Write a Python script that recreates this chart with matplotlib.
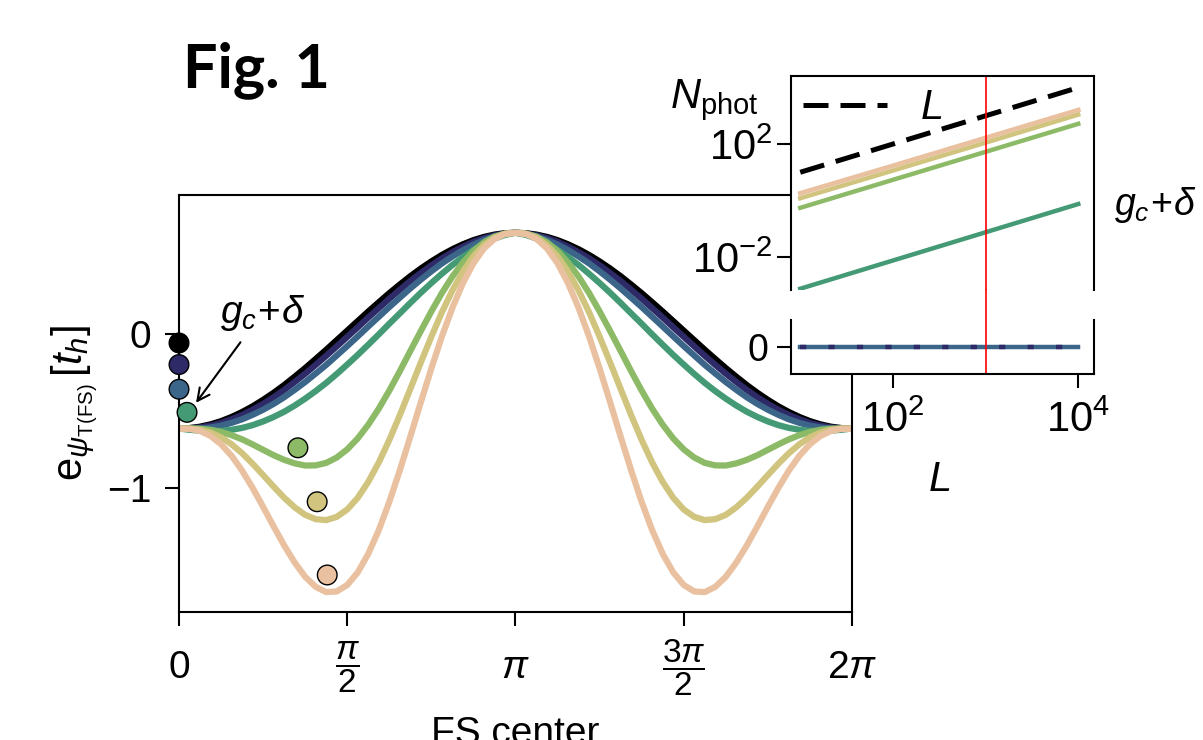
import matplotlib
matplotlib.use("Agg")
import matplotlib.pyplot as plt
from matplotlib.patches import Rectangle
from matplotlib.ticker import NullLocator
import numpy as np

plt.rcParams['font.family'] = ['Liberation Sans', 'DejaVu Sans']
plt.rcParams['mathtext.fontset'] = 'custom'
plt.rcParams['mathtext.rm'] = 'Liberation Sans'
plt.rcParams['mathtext.it'] = 'Liberation Sans:italic'
plt.rcParams['mathtext.bf'] = 'Liberation Sans:bold'
plt.rcParams['axes.linewidth'] = 1.5

#
#  DATA
#

# FS center in units of pi, every pi/32 on [0, pi]; curves are mirror symmetric about pi
phi_frac = np.arange(65) / 32.0

e_black = [-0.615, -0.612, -0.603, -0.588, -0.567, -0.540, -0.508, -0.471, -0.429,
           -0.383, -0.333, -0.279, -0.223, -0.164, -0.104, -0.042, 0.020,
           0.082, 0.144, 0.204, 0.263, 0.319, 0.373, 0.423, 0.469,
           0.511, 0.548, 0.580, 0.607, 0.628, 0.643, 0.652, 0.655]
e_navy = [-0.615, -0.614, -0.608, -0.596, -0.579, -0.555, -0.527, -0.493, -0.455,
          -0.412, -0.365, -0.313, -0.259, -0.202, -0.143, -0.082, -0.020,
          0.042, 0.105, 0.166, 0.227, 0.285, 0.342, 0.394, 0.444,
          0.489, 0.529, 0.565, 0.596, 0.620, 0.638, 0.650, 0.655]
e_blue = [-0.615, -0.617, -0.615, -0.608, -0.596, -0.578, -0.555, -0.526, -0.493,
          -0.455, -0.412, -0.364, -0.313, -0.258, -0.202, -0.141, -0.080,
          -0.017, 0.047, 0.110, 0.173, 0.234, 0.294, 0.351, 0.405,
          0.456, 0.501, 0.542, 0.578, 0.608, 0.631, 0.647, 0.655]
e_teal = [-0.615, -0.623, -0.629, -0.632, -0.630, -0.623, -0.611, -0.593, -0.569,
          -0.540, -0.506, -0.466, -0.421, -0.372, -0.319, -0.261, -0.200,
          -0.137, -0.071, -0.004, 0.065, 0.132, 0.200, 0.266, 0.329,
          0.389, 0.446, 0.497, 0.544, 0.584, 0.617, 0.641, 0.655]
e_lgreen = [-0.615, -0.614, -0.616, -0.623, -0.637, -0.658, -0.685, -0.718, -0.753,
            -0.788, -0.818, -0.841, -0.855, -0.854, -0.838, -0.803, -0.750,
            -0.679, -0.590, -0.486, -0.369, -0.243, -0.112, 0.018, 0.145,
            0.264, 0.371, 0.462, 0.537, 0.593, 0.630, 0.650, 0.655]
e_khaki = [-0.615, -0.616, -0.623, -0.641, -0.672, -0.717, -0.775, -0.843, -0.917,
           -0.992, -1.064, -1.126, -1.175, -1.203, -1.209, -1.188, -1.140,
           -1.064, -0.961, -0.835, -0.689, -0.528, -0.358, -0.186, -0.019,
           0.139, 0.281, 0.403, 0.502, 0.575, 0.623, 0.648, 0.655]
e_peach = [-0.615, -0.617, -0.631, -0.663, -0.717, -0.792, -0.888, -1.000, -1.123,
           -1.250, -1.373, -1.484, -1.577, -1.642, -1.676, -1.672, -1.630,
           -1.548, -1.428, -1.274, -1.091, -0.886, -0.667, -0.444, -0.225,
           -0.018, 0.168, 0.328, 0.457, 0.553, 0.615, 0.647, 0.655]

curves = [e_black, e_navy, e_blue, e_teal, e_lgreen, e_khaki, e_peach]
colors = ['#000000', '#2e2a68', '#3b6689', '#449a74', '#8cba66', '#d0c47e', '#eac1a0']

# minima (dots)
dot_phi = [0.0, 0.0, 0.0, 0.075, 1.11, 1.29, 1.384]
dot_e = [-0.06, -0.20, -0.36, -0.51, -0.74, -1.09, -1.565]

# inset: photon number vs L
L_vals = [10, 100, 1000, 10000]
N_L = [10, 100, 1000, 10000]
N_peach = [1.8, 17, 165, 1600]
N_khaki = [1.2, 11.5, 112, 1100]
N_lgreen = [0.55, 5.4, 53, 520]
N_teal = [7.5e-4, 7.5e-3, 0.075, 0.75]
N_zero = [0, 0, 0, 0]
L_mark = 1000

xtick_vals = [0, np.pi / 2, np.pi, 3 * np.pi / 2, 2 * np.pi]
xtick_labels = [r'$0$', r'$\dfrac{\pi}{2}$', r'$\pi$', r'$\dfrac{3\pi}{2}$', r'$2\pi$']

#
#  FIGURE
#
fig = plt.figure(figsize=(12.03, 7.40), dpi=100)

ax = fig.add_axes([0.1488, 0.1730, 0.5594, 0.5635])
phi = np.array(phi_frac) * np.pi
for e, c in zip(curves, colors):
    full = list(e) + list(e[-2::-1])   # mirror about pi
    ax.plot(phi, full, color=c, lw=4.5, solid_joinstyle='round')
ax.scatter(dot_phi, dot_e, s=200, c=colors, edgecolors='k', linewidths=1.0,
           zorder=5, clip_on=False)

ax.set_xlim(0, 2 * np.pi)
ax.set_ylim(-1.805, 0.90)
ax.set_xticks(xtick_vals)
ax.set_xticklabels(xtick_labels)
ax.set_yticks([-1, 0])
ax.tick_params(direction='out', length=10, width=1.5, labelsize=28)
ax.tick_params(axis='y', pad=10)
ax.tick_params(axis='x', pad=30)
for lbl in ax.get_xticklabels():
    lbl.set_va('center')
    if 'frac' in lbl.get_text():
        lbl.set_fontsize(24)
ax.set_ylabel(r'$\mathrm{e}_{\psi_{\mathrm{T(FS)}}}\,[t_h]$', fontsize=30)
ax.yaxis.set_label_coords(-0.118, 0.5)
ax.set_xlabel('FS center', fontsize=28)
ax.xaxis.set_label_coords(0.5, -0.25)

ax.annotate(r'$g_c\!+\!\delta$', xy=(0.159, -0.448), xytext=(0.776, 0.136),
            ha='center', va='center', fontsize=28,
            arrowprops=dict(arrowstyle='->', lw=1.5, color='k',
                            shrinkA=6, shrinkB=0, mutation_scale=22))

# white background behind the broken inset
fig.patches.append(Rectangle((0.6567, 0.4946), 0.2527, 0.4027,
                             transform=fig.transFigure, facecolor='white',
                             edgecolor='none', zorder=2))

ax_top = fig.add_axes([0.6575, 0.6081, 0.2519, 0.2892], zorder=3)
ax_bot = fig.add_axes([0.6575, 0.4946, 0.2519, 0.0730], zorder=3)

ax_top.plot(L_vals, N_L, color='k', lw=3.6, dashes=(5, 2.4), label='$L$')
ax_top.plot(L_vals, N_peach, color=colors[6], lw=3.4)
ax_top.plot(L_vals, N_khaki, color=colors[5], lw=3.2)
ax_top.plot(L_vals, N_lgreen, color=colors[4], lw=3.2)
ax_top.plot(L_vals, N_teal, color=colors[3], lw=3.2)
ax_top.axvline(L_mark, color='red', lw=1.2)

ax_bot.plot(L_vals, N_zero, color=colors[2], lw=3.2)
ax_bot.plot(L_vals, N_zero, color=colors[1], lw=3.2, dashes=(1.4, 5))
ax_bot.axvline(L_mark, ymin=0, ymax=1.56, color='red', lw=1.2, clip_on=False)

for a in (ax_top, ax_bot):
    a.set_xscale('log')
    a.set_xlim(10 ** 0.9, 10 ** 4.17)
    a.tick_params(direction='out', length=10, width=1.5, labelsize=30)
    a.xaxis.set_minor_locator(NullLocator())

ax_top.set_yscale('log')
ax_top.set_ylim(10 ** -3.17, 10 ** 4.41)
ax_top.set_yticks([1e-2, 1e2])
ax_top.yaxis.set_minor_locator(NullLocator())
ax_top.set_xticks([])
ax_top.spines['bottom'].set_visible(False)

ax_bot.set_ylim(-1, 1)
ax_bot.set_yticks([0])
ax_bot.tick_params(axis='y', labelsize=27, pad=6)
ax_bot.tick_params(axis='x', pad=9)
ax_bot.set_xticks([1e2, 1e4])
ax_bot.spines['top'].set_visible(False)

ax_top.legend(loc='upper left', frameon=False, fontsize=30, handlelength=2.0,
              borderaxespad=0.1, borderpad=0.2, handletextpad=0.8)

fig.text(0.594, 0.865, r'$N_{\mathrm{phot}}$', fontsize=30, ha='center', va='center')
fig.text(0.781, 0.351, r'$L$', fontsize=30, ha='center', va='center')
fig.text(0.960, 0.723, r'$g_c\!+\!\delta$', fontsize=27, ha='center', va='center')

fig.text(0.152, 0.905, 'Fig. 1', fontsize=44, fontweight='bold', family='Lato',
         ha='left', va='center')

plt.savefig('out.png', dpi=100)
